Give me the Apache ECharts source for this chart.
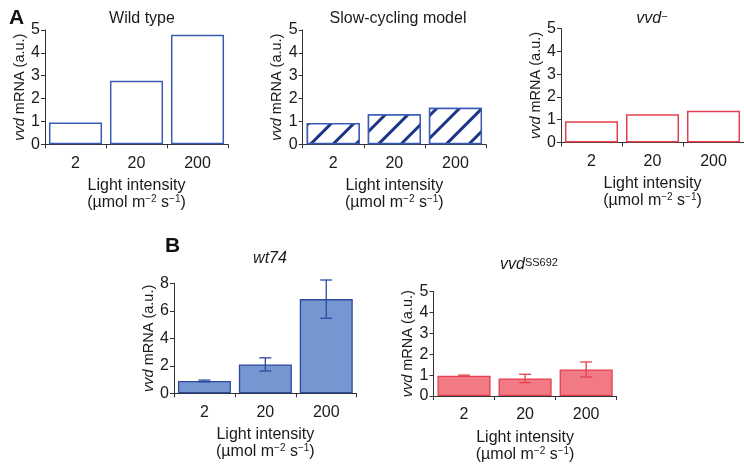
<!DOCTYPE html>
<html>
<head>
<meta charset="utf-8">
<script src="https://cdn.jsdelivr.net/npm/echarts@6/dist/echarts.min.js"></script>
<style>
html,body{margin:0;padding:0;background:#fff;}
#main{width:744px;height:464px;}
</style>
</head>
<body>
<div id="main"></div>
<script>
// ---- data ----
var categories = ['2', '20', '200'];
var wildType = [0.95, 2.78, 4.79];
var slowCycling = [0.93, 1.31, 1.6];
var vvdMinus = [0.93, 1.24, 1.39];
var wt74 = [0.9, 2.1, 6.85];
var wt74Err = [0.06, 0.48, 1.39];
var vvdSS692 = [0.97, 0.84, 1.27];
var vvdSS692Err = [0.03, 0.2, 0.36];
var yTicksA = [0, 1, 2, 3, 4, 5];
var yTicksWt74 = [0, 2, 4, 6, 8];

var FONT = 'Liberation Sans, Arial, Helvetica, sans-serif';
var AXIS = '#333333';
var TEXT = '#1a1a1a';
var BLUE = '#3a5cb4';
var NAVY = '#1e3586';
var BLUE_FILL = '#7696d2';
var RED = '#e2404f';
var RED_FILL = '#f27a84';

var chart = echarts.init(document.getElementById('main'), null, {renderer: 'canvas'});

var grids = [
  {left: 45, top: 30, width: 183, height: 114.3},
  {left: 302.7, top: 30, width: 183.3, height: 114.3},
  {left: 561, top: 28.5, width: 183, height: 114},
  {left: 174, top: 283.3, width: 182.7, height: 110},
  {left: 433.5, top: 291.5, width: 183.2, height: 106}
];

var supRich = {
  sup: {fontSize: 10, fontFamily: FONT, color: TEXT, verticalAlign: 'top', lineHeight: 10},
  i: {fontStyle: 'italic', fontSize: 14.5, fontFamily: FONT, color: TEXT}
};

function xAxisFor(idx) {
  return {
    type: 'category', gridIndex: idx, data: categories,
    axisLine: {lineStyle: {color: AXIS, width: 1}},
    axisTick: {show: true, length: 4, lineStyle: {color: AXIS}},
    axisLabel: {color: TEXT, fontSize: 16, fontFamily: FONT, margin: 11},
    name: 'Light intensity\n(µmol m{sup|−2} s{sup|−1})',
    nameLocation: 'middle', nameGap: 33,
    nameTextStyle: {color: TEXT, fontSize: 16, fontFamily: FONT, lineHeight: 17, rich: supRich}
  };
}
function yAxisFor(idx, max, interval) {
  return {
    type: 'value', gridIndex: idx, min: 0, max: max, interval: interval,
    splitLine: {show: false},
    axisLine: {show: true, lineStyle: {color: AXIS, width: 1}},
    axisTick: {show: true, length: 4, lineStyle: {color: AXIS}},
    axisLabel: {color: TEXT, fontSize: 16, fontFamily: FONT, margin: 5},
    name: '{i|vvd} mRNA (a.u.)',
    nameLocation: 'middle', nameGap: 13, nameRotate: 90,
    nameTextStyle: {color: TEXT, fontSize: 14.5, fontFamily: FONT, rich: supRich}
  };
}

function errorSeries(idx, vals, errs, color) {
  var data = vals.map(function (v, i) { return [i, v, errs[i]]; });
  return {
    type: 'custom', xAxisIndex: idx, yAxisIndex: idx, data: data, z: 10,
    renderItem: function (params, api) {
      var x = api.value(0), v = api.value(1), e = api.value(2);
      var hi = api.coord([x, v + e]);
      var lo = api.coord([x, v - e]);
      var cap = 6;
      var style = {stroke: color, lineWidth: 1.3};
      return {
        type: 'group',
        children: [
          {type: 'line', shape: {x1: hi[0], y1: hi[1], x2: lo[0], y2: lo[1]}, style: style},
          {type: 'line', shape: {x1: hi[0] - cap, y1: hi[1], x2: hi[0] + cap, y2: hi[1]}, style: style},
          {type: 'line', shape: {x1: lo[0] - cap, y1: lo[1], x2: lo[0] + cap, y2: lo[1]}, style: style}
        ]
      };
    }
  };
}

var titleStyle = {color: TEXT, fontSize: 16, fontFamily: FONT, fontWeight: 'normal'};
var titleRich = {
  i: {fontStyle: 'italic', fontSize: 16, fontFamily: FONT, color: TEXT},
  sup: {fontSize: 11, fontFamily: FONT, color: TEXT, verticalAlign: 'top', lineHeight: 11}
};

var option = {
  backgroundColor: '#ffffff',
  animation: false,
  title: [
    {text: 'A', left: 4, top: 3, textStyle: {color: '#111', fontSize: 21, fontWeight: 'bold', fontFamily: FONT}},
    {text: 'B', left: 160, top: 231, textStyle: {color: '#111', fontSize: 21, fontWeight: 'bold', fontFamily: FONT}},
    {text: 'Wild type', left: 137, top: 6, textAlign: 'center', textStyle: titleStyle},
    {text: 'Slow-cycling model', left: 393, top: 6, textAlign: 'center', textStyle: titleStyle},
    {text: '{i|vvd}{sup|−}', left: 647, top: 6, textAlign: 'center', textStyle: Object.assign({rich: titleRich}, titleStyle)},
    {text: '{i|wt74}', left: 265, top: 246, textAlign: 'center', textStyle: Object.assign({rich: titleRich}, titleStyle)},
    {text: '{i|vvd}{sup|SS692}', left: 524, top: 252, textAlign: 'center', textStyle: Object.assign({rich: titleRich}, titleStyle)}
  ],
  grid: grids,
  xAxis: [xAxisFor(0), xAxisFor(1), xAxisFor(2), xAxisFor(3), xAxisFor(4)],
  yAxis: [
    yAxisFor(0, yTicksA[yTicksA.length - 1], yTicksA[1] - yTicksA[0]),
    yAxisFor(1, yTicksA[yTicksA.length - 1], yTicksA[1] - yTicksA[0]),
    yAxisFor(2, yTicksA[yTicksA.length - 1], yTicksA[1] - yTicksA[0]),
    yAxisFor(3, yTicksWt74[yTicksWt74.length - 1], yTicksWt74[1] - yTicksWt74[0]),
    yAxisFor(4, yTicksA[yTicksA.length - 1], yTicksA[1] - yTicksA[0])
  ],
  series: [
    {type: 'bar', xAxisIndex: 0, yAxisIndex: 0, data: wildType, barCategoryGap: '13%',
     itemStyle: {color: '#ffffff', borderColor: BLUE, borderWidth: 1.5}},
    {type: 'bar', xAxisIndex: 1, yAxisIndex: 1, data: slowCycling, barCategoryGap: '13%',
     itemStyle: {color: '#ffffff', borderColor: BLUE, borderWidth: 1.5,
       decal: {symbol: 'rect', symbolSize: 1, dashArrayX: [1, 0], dashArrayY: [3, 12.5], rotation: -Math.PI / 4, color: NAVY, backgroundColor: '#ffffff'}}},
    {type: 'bar', xAxisIndex: 2, yAxisIndex: 2, data: vvdMinus, barCategoryGap: '13%',
     itemStyle: {color: '#ffffff', borderColor: RED, borderWidth: 1.5}},
    {type: 'bar', xAxisIndex: 3, yAxisIndex: 3, data: wt74, barCategoryGap: '13%',
     itemStyle: {color: BLUE_FILL, borderColor: '#2b4a9e', borderWidth: 1.3}},
    errorSeries(3, wt74, wt74Err, '#2b4a9e'),
    {type: 'bar', xAxisIndex: 4, yAxisIndex: 4, data: vvdSS692, barCategoryGap: '13%',
     itemStyle: {color: RED_FILL, borderColor: RED, borderWidth: 1.3}},
    errorSeries(4, vvdSS692, vvdSS692Err, RED)
  ]
};
chart.setOption(option);
</script>
</body>
</html>
